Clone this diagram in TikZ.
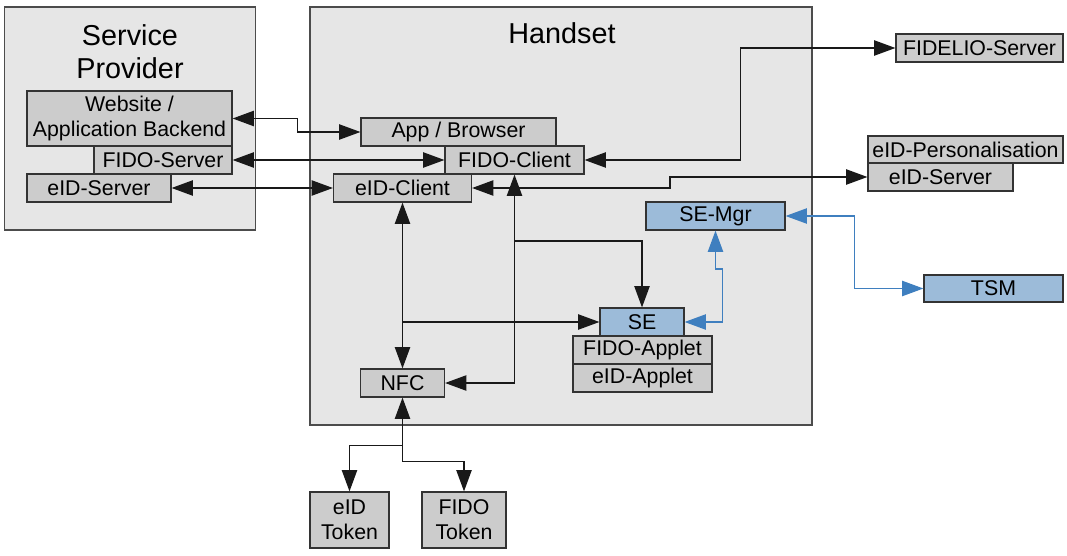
\documentclass[tikz,border=0pt]{standalone}
\usepackage{fontspec}
\setmainfont{Liberation Sans}
\usetikzlibrary{arrows.meta}
\definecolor{areafill}{HTML}{E6E6E6}
\definecolor{boxfill}{HTML}{CCCCCC}
\definecolor{sefill}{HTML}{9CBBD9}
\definecolor{seline}{HTML}{3F7FBF}
\tikzset{tri/.tip={Triangle[length=16pt,width=11.5pt]}}
\begin{document}
\begin{tikzpicture}[x=0.75pt, y=-0.75pt,
  wh/.style 2 args={minimum width=#1*0.75pt, minimum height=#2*0.75pt},
  area/.style={draw=black!70, fill=areafill, line width=0.9pt, inner sep=0pt},
  title/.style={align=center, font=\fontsize{21.6}{24.8}\selectfont},
  box/.style={draw=black!80, fill=boxfill, line width=0.9pt, inner sep=0pt, align=center, font=\fontsize{16}{18.75}\selectfont},
  sebox/.style={box, fill=sefill},
  conn/.style={draw=black!90, line width=1pt},
  seconn/.style={draw=seline, line width=1pt}]
\useasboundingbox (0,0) rectangle (1067,556);
% containers
\node[area, wh={251}{223}] (sp) at (130,118.5){};
\node[area, wh={502}{418}] (hs) at (561,216){};
\node[title] (sptitle) at (130,51.5){Service\\Provider};
\node[title] (hstitle) at (562,33){Handset};
% service provider
\node[box, wh={205}{55}] (web) at (129.5,118.5){Website /\\Application Backend};
\node[box, wh={138}{28}] (fsrv) at (163,160){FIDO-Server};
\node[box, wh={144}{28}] (esrv) at (99,188){eID-Server};
% handset
\node[box, wh={195}{28}] (app) at (458.5,132){App / Browser};
\node[box, wh={139}{28}] (fcli) at (514.5,160){FIDO-Client};
\node[box, wh={138}{28}] (ecli) at (402.5,188){eID-Client};
\node[sebox, wh={139}{28}] (semgr) at (715.5,216){SE-Mgr};
\node[sebox, wh={84}{28}] (se) at (642,322){SE};
\node[box, wh={139}{28}] (fapp) at (642.5,350){FIDO-Applet};
\node[box, wh={139}{28}] (eapp) at (642.5,378){eID-Applet};
\node[box, wh={84}{28}] (nfc) at (402.5,383){NFC};
% outside
\node[box, wh={167}{28}] (fidelio) at (979.5,48){FIDELIO-Server};
\node[box, wh={195}{27}] (epers) at (965.5,149.5){eID-Personalisation};
\node[box, wh={145}{28}] (esrv2) at (940.5,177){eID-Server};
\node[sebox, wh={139}{27}] (tsm) at (993.5,288.5){TSM};
\node[box, wh={79}{56}] (etok) at (349.5,520){eID\\Token};
\node[box, wh={84}{56}] (ftok) at (464,520){FIDO\\Token};
% connectors
\draw[conn, tri-tri] (web.east) -- ++(65,0) |- (app.west);
\draw[conn, tri-tri] (fsrv.east) -- (fcli.west);
\draw[conn, tri-tri] (esrv.east) -- (ecli.west);
\draw[conn, tri-tri] (fcli.east) -- ++(156,0) |- (fidelio.west);
\draw[conn, tri-tri] (ecli.east) -- ++(198,0) |- (esrv2.west);
\draw[conn, tri-tri] (ecli.south) -- (nfc.north);
\coordinate (j1) at (ecli.south |- se.west);
\draw[conn, -tri] (j1) -- (se.west);
\draw[conn, tri-tri] (fcli.south) |- (nfc.east);
\coordinate (j2) at (514.5,241);
\draw[conn, -tri] (j2) -| (se.north);
\draw[seconn, tri-tri] (se.east) -- ++(38,0) -- ++(0,-53) -| (semgr.south);
\draw[seconn, tri-tri] (semgr.east) -- ++(69,0) |- (tsm.west);
\draw[conn, tri-tri] (nfc.south) -- ++(0,48) -| (etok.north);
\draw[conn, -tri] (nfc.south) ++(0,48) -- ++(0,16) -| (ftok.north);
\end{tikzpicture}
\end{document}
